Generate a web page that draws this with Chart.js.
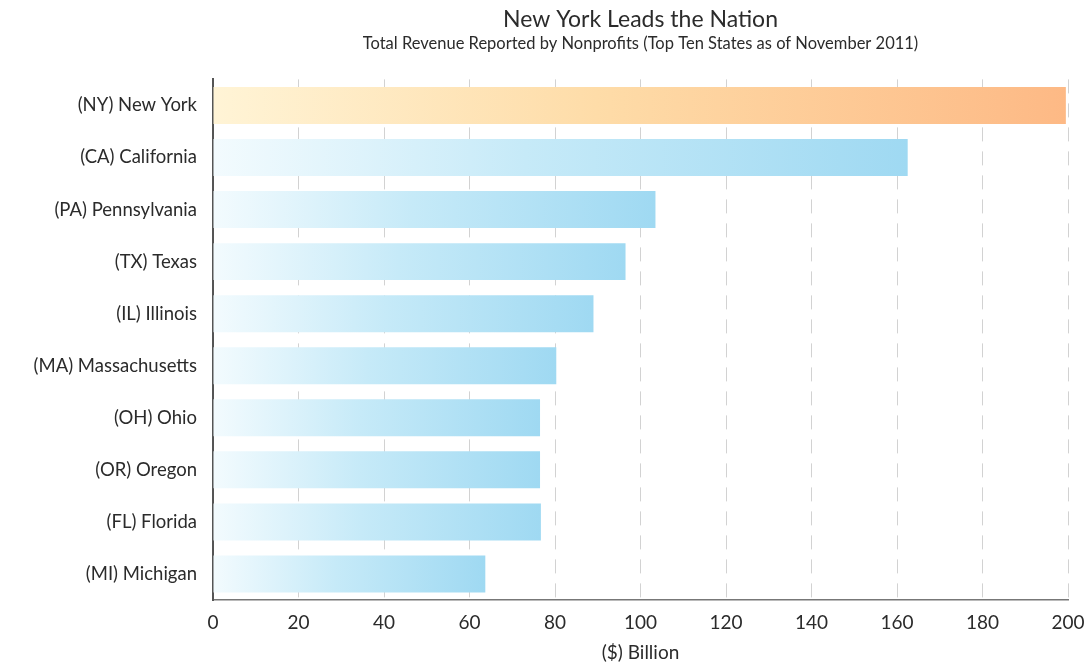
<!DOCTYPE html>
<html>
<head>
<meta charset="utf-8">
<script src="https://cdn.jsdelivr.net/npm/chart.js@4.4.1/dist/chart.umd.min.js"></script>
<style>
  html, body { margin: 0; padding: 0; background: #fff; }
  #wrap { width: 1090px; height: 664px; }
</style>
</head>
<body>
<div id="wrap"><canvas id="miGrafica"></canvas></div>
<script>
"use strict";

// datos
const estados = ["(NY) New York", "(CA) California", "(PA) Pennsylvania", "(TX) Texas", "(IL) Illinois",
  "(MA) Massachusetts", "(OH) Ohio", "(OR) Oregon", "(FL) Florida", "(MI) Michigan"];
const ingresos = [199.5, 162.5, 103.5, 96.5, 89, 80.3, 76.5, 76.5, 76.7, 63.7];
const ticksX = [0, 20, 40, 60, 80, 100, 120, 140, 160, 180, 200];

const fuente = "Lato, 'Open Sans', sans-serif";
const gris = "#2b2b2b";

// degradado por barra: claro a la izquierda, saturado al final
function colorBarra(ctx) {
  const chart = ctx.chart;
  const x = chart.scales.x;
  const base = ctx.dataIndex === 0 ? "#fdbb84" : "#a3daf2";
  if (!x || !ctx.parsed) return base;
  const x0 = x.getPixelForValue(0);
  const x1 = x.getPixelForValue(ctx.parsed.x);
  if (!isFinite(x0) || !isFinite(x1) || x1 <= x0) return base;
  const g = chart.ctx.createLinearGradient(x0, 0, x1, 0);
  if (ctx.dataIndex === 0) {
    g.addColorStop(0, "#fff4d6");
    g.addColorStop(0.45, "#fedca8");
    g.addColorStop(1, "#fdb985");
  } else {
    g.addColorStop(0, "#f3fbfe");
    g.addColorStop(0.45, "#c6eaf8");
    g.addColorStop(1, "#9fd9f2");
  }
  return g;
}

const chart = new Chart(document.getElementById("miGrafica"), {
  type: "bar",
  data: {
    labels: estados,
    datasets: [{
      data: ingresos,
      backgroundColor: colorBarra,
      borderWidth: 0,
      barPercentage: 0.71,
      categoryPercentage: 1
    }]
  },
  options: {
    indexAxis: "y",
    responsive: true,
    maintainAspectRatio: false,
    animation: false,
    layout: { padding: { left: 0, right: 0, top: 2, bottom: 0 } },
    plugins: {
      legend: { display: false },
      tooltip: { enabled: false },
      title: {
        display: true,
        fullSize: false,
        text: "New York Leads the Nation",
        color: gris,
        font: { family: fuente, size: 23, weight: "normal" },
        padding: { top: 4, bottom: 0 }
      },
      subtitle: {
        display: true,
        fullSize: false,
        text: "Total Revenue Reported by Nonprofits (Top Ten States as of November 2011)",
        color: gris,
        font: { family: fuente, size: 16.5 },
        padding: { top: 0, bottom: 26 }
      }
    },
    scales: {
      x: {
        min: 0,
        max: 200,
        afterBuildTicks: function (s) { s.ticks = ticksX.map(v => ({ value: v })); },
        afterFit: function (s) { s.height = 64; s.paddingRight = 22; },
        ticks: { color: gris, font: { family: fuente, size: 19 }, padding: 11 },
        grid: { color: "#d2d2d2", lineWidth: 1, drawTicks: false },
        border: { display: true, color: "#777", width: 1.5, dash: [14, 10] },
        title: {
          display: true,
          text: "($) Billion",
          color: gris,
          font: { family: fuente, size: 19 },
          padding: { top: 0, bottom: 0 }
        }
      },
      y: {
        afterFit: function (s) { s.width = 213; },
        ticks: { color: gris, font: { family: fuente, size: 18.5 }, padding: 16 },
        grid: { display: false, drawTicks: false },
        border: { display: true, color: "#555", width: 2 }
      }
    }
  }
});
</script>
</body>
</html>
